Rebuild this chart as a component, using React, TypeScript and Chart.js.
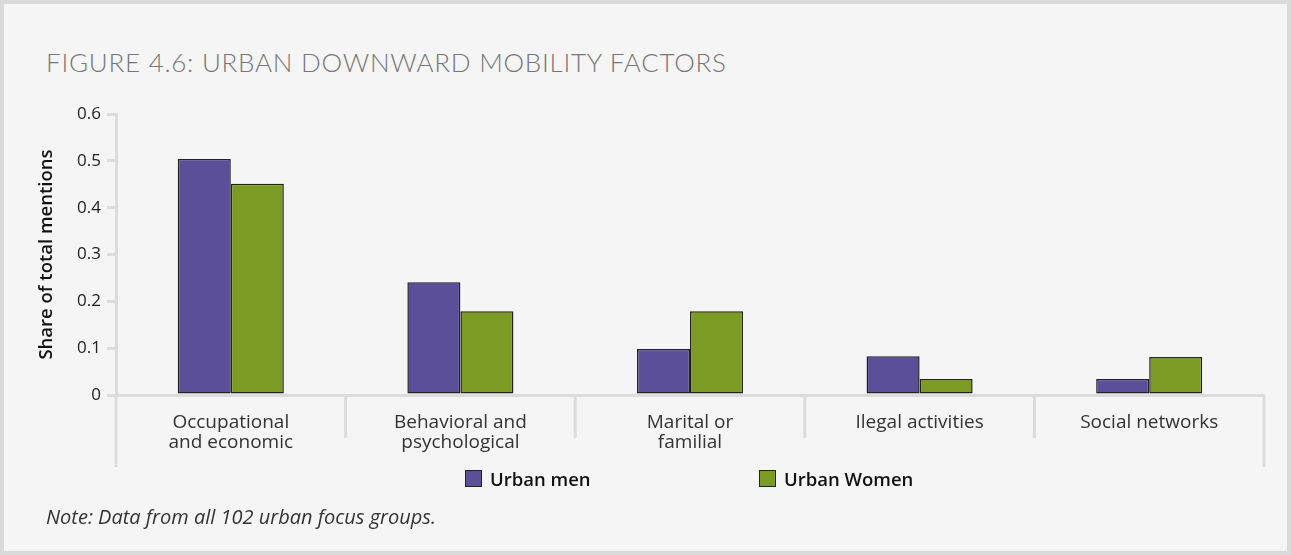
import React, { useEffect, useRef } from 'react';
import { Chart, registerables } from 'chart.js';

Chart.register(...registerables);

const categories: string[][] = [
  ['Occupational', 'and economic'],
  ['Behavioral and', 'psychological'],
  ['Marital or', 'familial'],
  ['Ilegal activities'],
  ['Social networks'],
];
const urbanMen = [0.504, 0.241, 0.098, 0.083, 0.034];
const urbanWomen = [0.451, 0.179, 0.179, 0.034, 0.081];
const yTickValues = [0, 0.1, 0.2, 0.3, 0.4, 0.5, 0.6];
const seriesNames = ['Urban men', 'Urban Women'];
const seriesColors = ['#5b4f99', '#7c9b24'];

const FONT = '"Open Sans", Lato, sans-serif';
const TITLE_FONT = 'Lato, "Open Sans", sans-serif';
const LINE = '#dcdcdc';

const separatorPlugin = {
  id: 'separators',
  afterDraw(chart: any) {
    const { ctx, chartArea, scales } = chart;
    const x = scales.x;
    const n = chart.data.labels.length;
    const step = (x.right - x.left) / n;
    ctx.save();
    ctx.strokeStyle = LINE;
    ctx.lineWidth = 3;
    for (let i = 0; i <= n; i++) {
      const px = x.left + i * step;
      const edge = i === 0 || i === n;
      ctx.beginPath();
      ctx.moveTo(px, chartArea.bottom);
      ctx.lineTo(px, chartArea.bottom + (edge ? 72 : 43));
      ctx.stroke();
    }
    ctx.restore();
  },
};

export default function App() {
  const ref = useRef<HTMLCanvasElement | null>(null);

  useEffect(() => {
    if (!ref.current) return;
    const chart = new Chart(ref.current, {
      type: 'bar',
      data: {
        labels: categories,
        datasets: [
          {
            label: seriesNames[0],
            data: urbanMen,
            backgroundColor: seriesColors[0],
            borderColor: '#222',
            borderWidth: 1.5,
            borderSkipped: false,
            categoryPercentage: 0.462,
            barPercentage: 1,
          },
          {
            label: seriesNames[1],
            data: urbanWomen,
            backgroundColor: seriesColors[1],
            borderColor: '#222',
            borderWidth: 1.5,
            borderSkipped: false,
            categoryPercentage: 0.462,
            barPercentage: 1,
          },
        ],
      },
      options: {
        responsive: false,
        animation: false,
        layout: { padding: { left: 36, right: 27, top: 114, bottom: 100 } },
        plugins: {
          legend: { display: false },
          tooltip: { enabled: false },
          title: { display: false },
        },
        scales: {
          x: {
            z: 1,
            grid: { display: false, drawTicks: false },
            border: { display: true, color: LINE, width: 3 },
            ticks: {
              color: '#333',
              padding: 18,
              maxRotation: 0,
              autoSkip: false,
              font: { family: FONT, size: 19, weight: 400, lineHeight: 1.05 },
            },
            afterFit: (s: any) => {
              s.height = 60;
            },
          },
          y: {
            min: 0,
            max: 0.6,
            afterBuildTicks: (s: any) => {
              s.ticks = yTickValues.map((v) => ({ value: v }));
            },
            grid: {
              display: true,
              drawOnChartArea: false,
              drawTicks: true,
              tickLength: 9,
              color: LINE,
              lineWidth: 3,
            },
            border: { display: true, color: LINE, width: 3 },
            ticks: {
              color: '#222',
              padding: 6,
              font: { family: FONT, size: 17, weight: 400 },
              callback: (v: any) => (Number(v) === 0 ? '0' : Number(v).toFixed(1)),
            },
            title: {
              display: true,
              text: 'Share of total mentions',
              color: '#111',
              font: { family: FONT, size: 18.5, weight: 600 },
              padding: { top: 0, bottom: 0 },
            },
            afterFit: (s: any) => {
              s.width = 80;
            },
          },
        },
      },
      plugins: [separatorPlugin],
    });
    return () => chart.destroy();
  }, []);

  const legendLeft = [465, 759];

  return (
    <div
      style={{
        position: 'absolute',
        left: 0,
        top: 0,
        width: 1291,
        height: 555,
        boxSizing: 'border-box',
        border: '4px solid #dadada',
        background: '#f5f5f5',
        overflow: 'hidden',
        fontFamily: FONT,
      }}
    >
      <div
        style={{
          position: 'absolute',
          left: 42,
          top: 42,
          fontFamily: TITLE_FONT,
          fontSize: 26,
          fontWeight: 300,
          letterSpacing: 0.75,
          color: '#777',
          whiteSpace: 'nowrap',
        }}
      >
        FIGURE 4.6: URBAN DOWNWARD MOBILITY FACTORS
      </div>
      <canvas
        ref={ref}
        width={1291}
        height={555}
        style={{ position: 'absolute', left: -4, top: -4, width: 1291, height: 555 }}
      />
      {seriesNames.map((name, i) => (
        <div
          key={name}
          style={{
            position: 'absolute',
            left: legendLeft[i] - 4,
            top: 466 - 4,
            display: 'flex',
            alignItems: 'center',
            whiteSpace: 'nowrap',
          }}
        >
          <div
            style={{
              width: 15,
              height: 15,
              background: seriesColors[i],
              border: '1.5px solid #222',
              marginRight: 8,
            }}
          />
          <span style={{ fontSize: 18.5, fontWeight: 600, color: '#111' }}>{name}</span>
        </div>
      ))}
      <div
        style={{
          position: 'absolute',
          left: 42,
          top: 499,
          fontSize: 20,
          fontStyle: 'italic',
          color: '#333',
          whiteSpace: 'nowrap',
        }}
      >
        Note: Data from all 102 urban focus groups.
      </div>
    </div>
  );
}
